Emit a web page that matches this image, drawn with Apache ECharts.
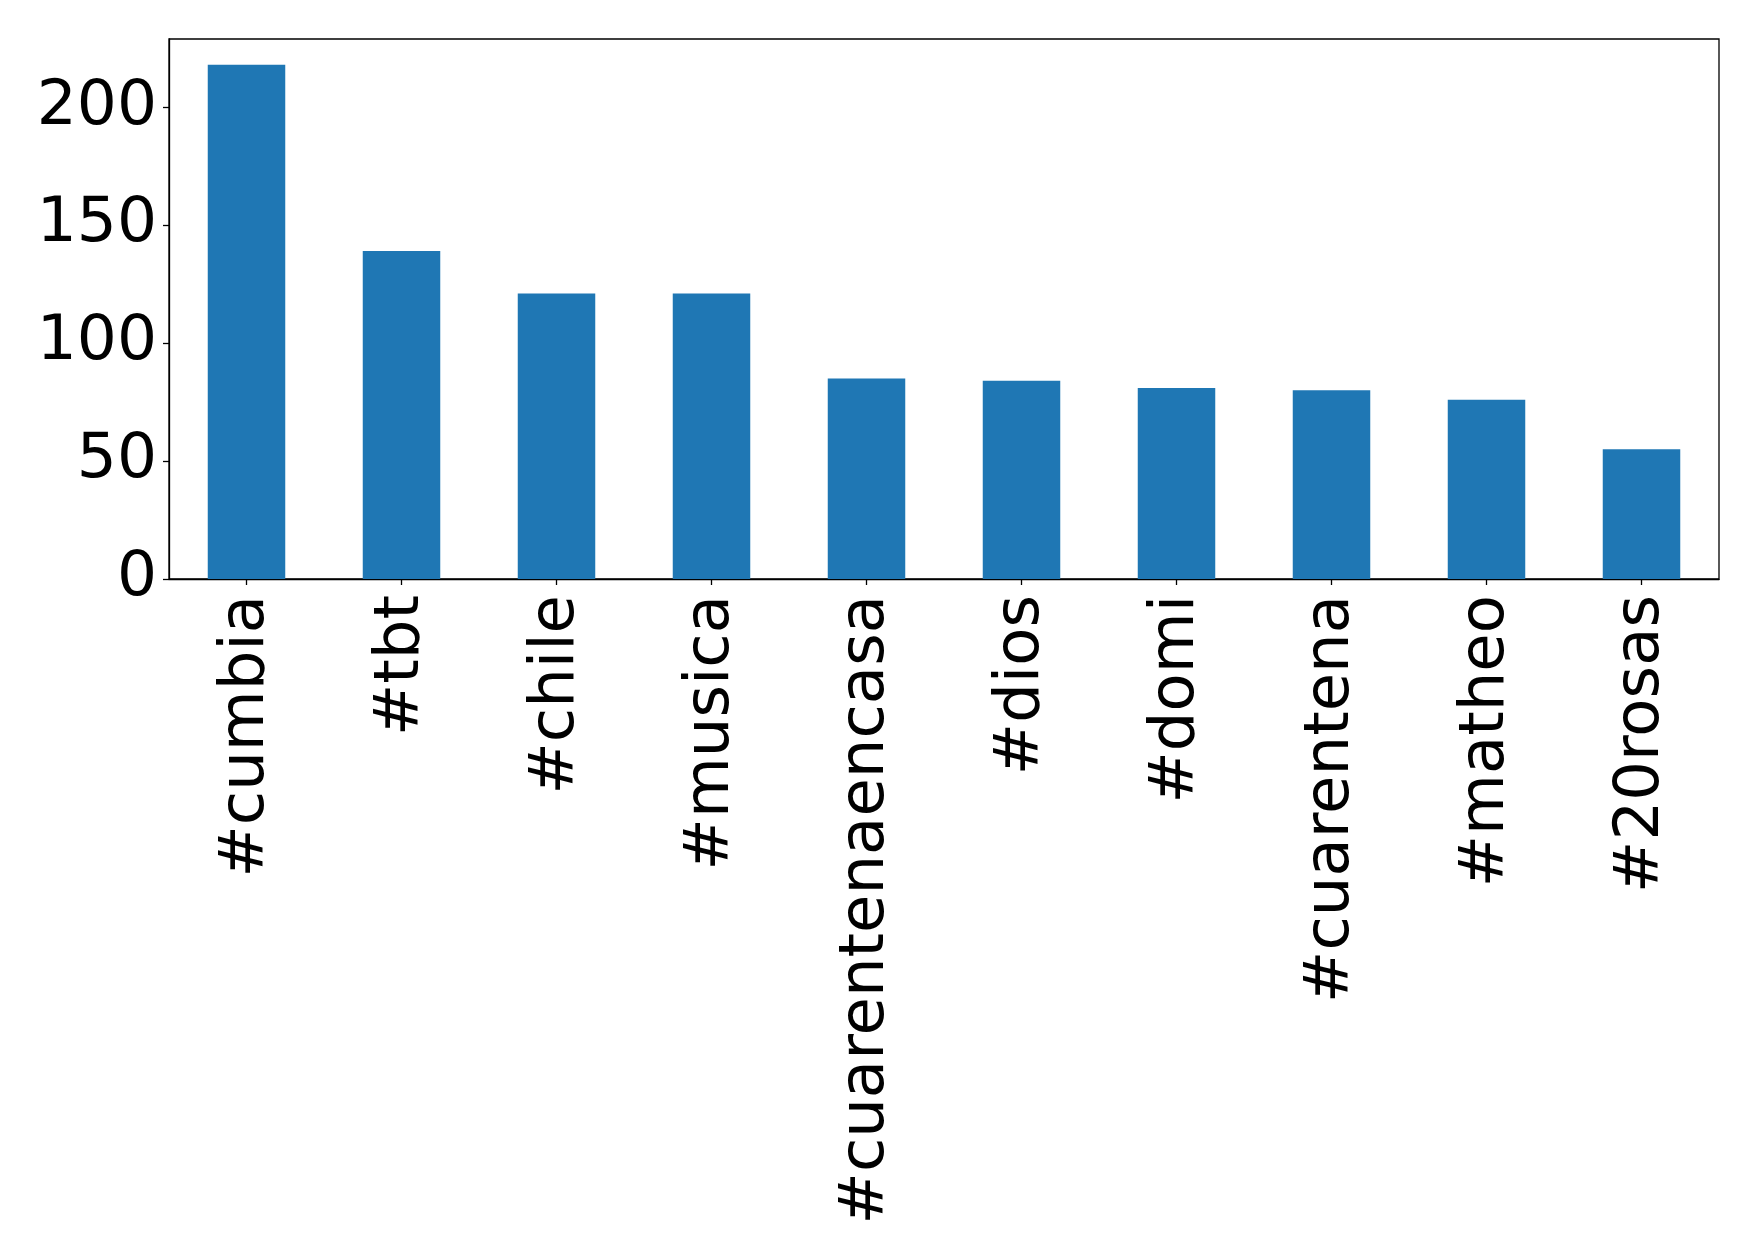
<!DOCTYPE html>
<html>
<head>
<meta charset="utf-8">
<script src="https://cdn.jsdelivr.net/npm/echarts@6/dist/echarts.min.js"></script>
<style>
html,body{margin:0;padding:0;background:#fff;}
#chart{width:1758px;height:1257px;}
</style>
</head>
<body>
<div id="chart"></div>
<script>
const categories = ["#cumbia", "#tbt", "#chile", "#musica", "#cuarentenaencasa", "#dios", "#domi", "#cuarentena", "#matheo", "#20rosas"];
const counts = [218, 139, 121, 121, 85, 84, 81, 80, 76, 55];
const yTicks = [0, 50, 100, 150, 200];

const chart = echarts.init(document.getElementById('chart'), null, {renderer: 'canvas'});
chart.setOption({
  animation: false,
  backgroundColor: '#ffffff',
  textStyle: {fontFamily: 'DejaVu Sans'},
  grid: {left: 169, right: 39, top: 39, bottom: 678, show: true, borderColor: '#000', borderWidth: 1.3, backgroundColor: 'transparent'},
  xAxis: {
    type: 'category',
    data: categories,
    boundaryGap: true,
    axisLine: {show: true, lineStyle: {color: '#000', width: 1.3}},
    axisTick: {show: true, alignWithLabel: true, length: 6, lineStyle: {color: '#000', width: 1.3}},
    axisLabel: {rotate: 90, fontSize: 62.5, color: '#000', fontFamily: 'DejaVu Sans', margin: 16, interval: 0, padding: [8, 0, 0, 0]}
  },
  yAxis: {
    type: 'value',
    min: 0,
    max: 228.9,
    interval: 50,
    splitLine: {show: false},
    axisLine: {show: true, lineStyle: {color: '#000', width: 1.3}},
    axisTick: {show: true, length: 6, lineStyle: {color: '#000', width: 1.3}},
    axisLabel: {
      fontSize: 63, color: '#000', fontFamily: 'DejaVu Sans', margin: 12, showMaxLabel: false,
      formatter: function (v) { return yTicks.indexOf(v) >= 0 ? String(v) : ''; }
    }
  },
  series: [{
    type: 'bar',
    data: counts,
    barWidth: '50%',
    itemStyle: {color: '#1f77b4'}
  }]
});
</script>
</body>
</html>
